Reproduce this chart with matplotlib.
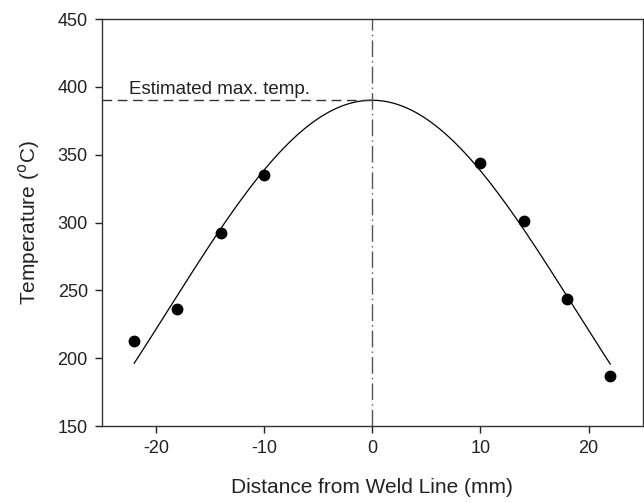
import numpy as np
import matplotlib.pyplot as plt

plt.rcParams['font.family'] = ['Liberation Sans', 'DejaVu Sans']
plt.rcParams['axes.unicode_minus'] = False

# measured peak temperatures across the weld
distance = np.array([-22, -18, -14, -10, 10, 14, 18, 22])
temperature = np.array([213, 236, 292, 335, 344, 301, 244, 187])

x_ticks = [-20, -10, 0, 10, 20]
y_ticks = [150, 200, 250, 300, 350, 400, 450]


def gauss(x, p):
    a, x0, b = p
    return a * np.exp(-0.5 * ((x - x0) / b) ** 2)


# 3-parameter gaussian: start from log-space quadratic, refine with gauss-newton
c2, c1, c0 = np.polyfit(distance, np.log(temperature), 2)
x0 = -c1 / (2 * c2)
p = np.array([np.exp(c0 - c1 ** 2 / (4 * c2)), x0, np.sqrt(-1 / (2 * c2))])
for _ in range(50):
    a, x0, b = p
    g = gauss(distance, p)
    u = (distance - x0) / b
    J = np.column_stack([g / a, g * u / b, g * u ** 2 / b])
    step, *_ = np.linalg.lstsq(J, temperature - g, rcond=None)
    p = p + step

x_fit = np.linspace(distance.min(), distance.max(), 300)
y_fit = gauss(x_fit, p)
t_peak = p[0]

fig = plt.figure(figsize=(6.44, 5.03), dpi=100)
ax = fig.add_axes([0.158, 0.153, 0.840, 0.809])

ax.plot(x_fit, y_fit, color='black', lw=0.9)
ax.plot(distance, temperature, 'o', color='black', ms=7.5)

# estimated max temperature markers
ax.plot([-25, p[1]], [t_peak, t_peak], color='#333333', lw=1.0, ls=(0, (7, 4)))
ax.axvline(0, color='#555555', lw=1.0, ls=(0, (12, 3, 1, 3)))
ax.text(-22.5, t_peak + 2, 'Estimated max. temp.', fontsize=13.5, va='bottom', ha='left', color='#222222')

ax.set_xlim(-25, 25)
ax.set_ylim(150, 450)
ax.set_xticks(x_ticks)
ax.set_yticks(y_ticks)
ax.tick_params(direction='out', length=5, width=1, labelsize=13, colors='#222222', pad=5)
for s in ax.spines.values():
    s.set_color('#333333')
    s.set_linewidth(1.0)

ax.set_xlabel('Distance from Weld Line (mm)', fontsize=15, labelpad=15, color='#222222')
ax.set_ylabel('Temperature ($^{\\mathrm{o}}$C)', fontsize=15, labelpad=11, color='#222222')

fig.savefig('out.png', dpi=100)
